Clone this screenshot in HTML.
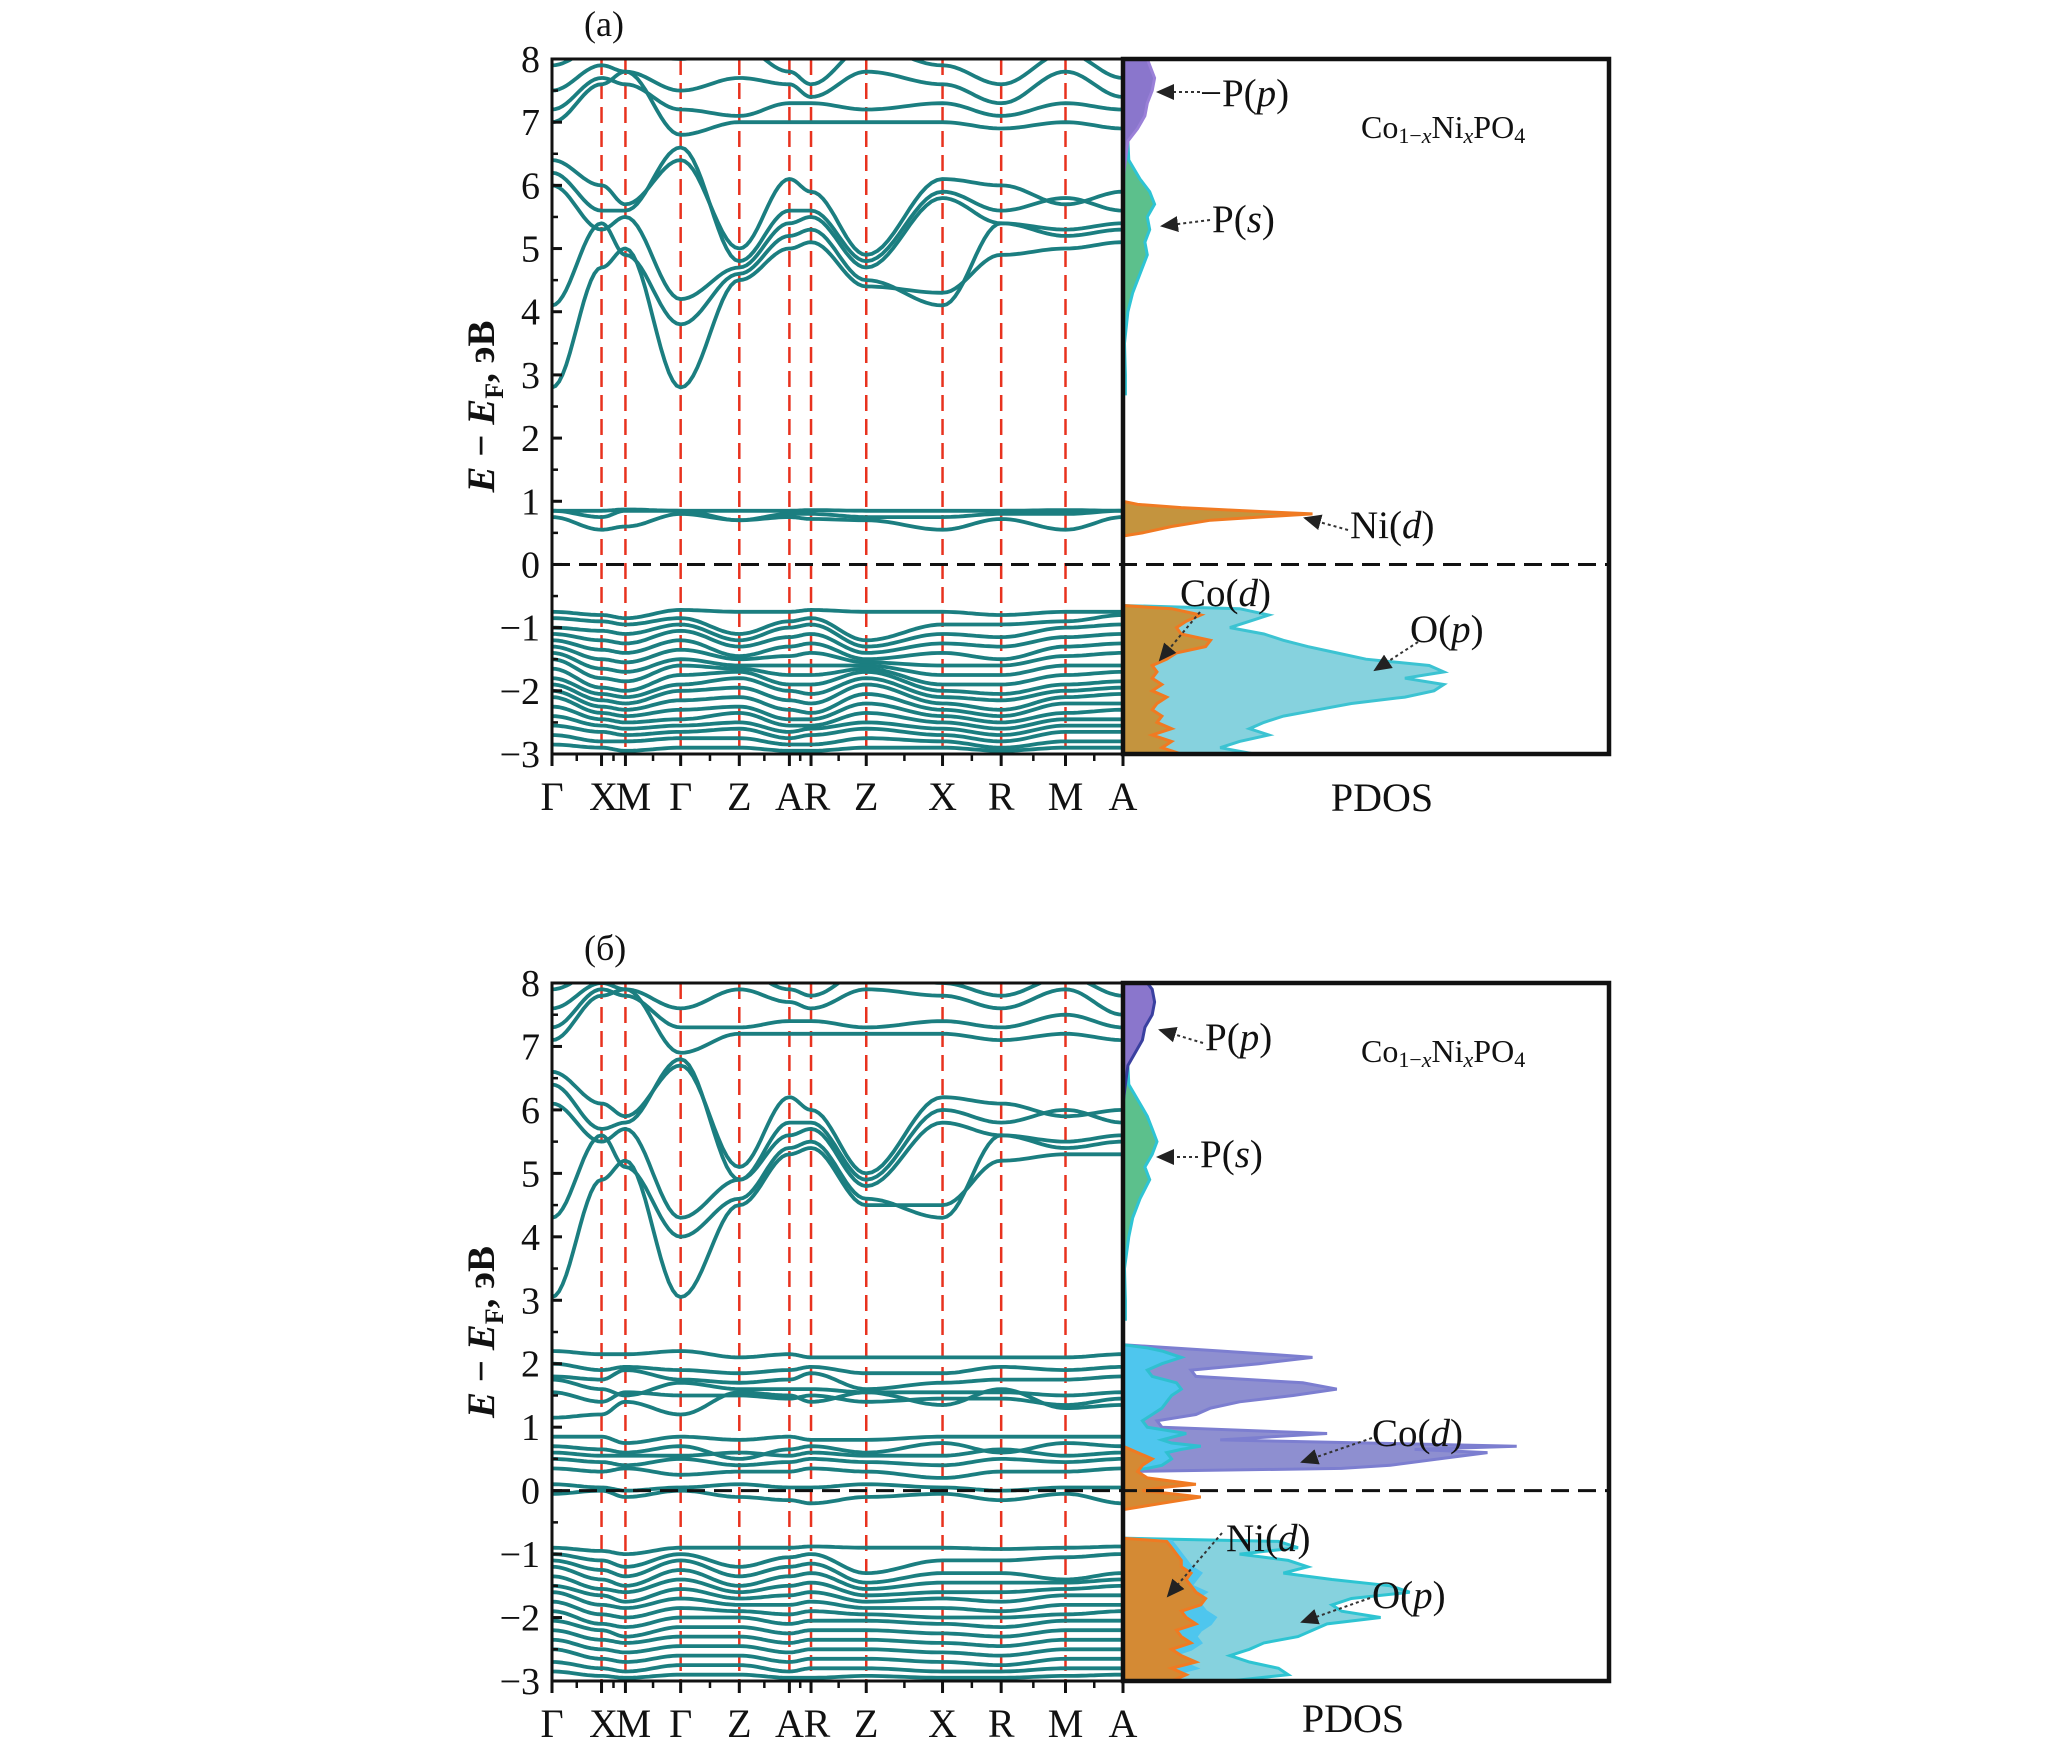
<!DOCTYPE html>
<html><head><meta charset="utf-8">
<style>
html,body{margin:0;padding:0;background:#fff;}
svg{display:block;font-family:"Liberation Serif",serif;}
</style></head>
<body>
<svg id="fig" width="2067" height="1748" viewBox="0 0 2067 1748" xmlns="http://www.w3.org/2000/svg">
<defs>
<marker id="arr" markerWidth="10" markerHeight="10" refX="8" refY="5" orient="auto"><path d="M0,1 L9,5 L0,9 z" fill="#222"/></marker>
<clipPath id="clipA"><rect x="552" y="59" width="571" height="695"/></clipPath>
<clipPath id="clipB"><rect x="552" y="983" width="571" height="698"/></clipPath>
</defs>
</svg>
<script>
// ---- data ----
const kLabels = ["Γ","X","M","Γ","Z","A","R","Z","X","R","M","A"];
const kDist = [0,0.87,1.29,2.26,3.29,4.17,4.55,5.52,6.86,7.89,9.02,10.03];
const yTicks = [8,7,6,5,4,3,2,1,0,-1,-2,-3];

const bandsA = [
[2.8,4.7,5.0,2.8,4.5,5.0,5.1,4.4,4.3,4.9,5.0,5.1],
[4.1,5.4,4.9,3.8,4.6,5.2,5.3,4.5,4.1,5.4,5.3,5.4],
[6.0,5.3,5.5,4.2,4.7,5.4,5.5,4.7,5.8,5.4,5.2,5.3],
[6.2,5.6,5.6,6.6,4.8,5.6,5.6,4.8,5.9,5.6,5.8,5.6],
[6.4,6.0,5.7,6.4,5.0,6.1,5.9,4.9,6.1,6.0,5.7,5.9],
[7.0,7.6,7.8,6.8,7.0,7.0,7.0,7.0,7.0,6.9,7.0,6.9],
[7.2,7.7,7.6,7.2,7.1,7.3,7.3,7.2,7.3,7.1,7.3,7.2],
[7.5,7.9,7.8,7.5,7.7,7.6,7.4,7.8,7.6,7.3,7.8,7.4],
[7.9,8.2,8.1,8.0,8.2,7.8,7.6,8.2,7.9,7.6,8.1,7.7],
[0.85,0.85,0.87,0.85,0.85,0.85,0.86,0.85,0.85,0.85,0.86,0.85],
[0.85,0.75,0.85,0.85,0.7,0.8,0.8,0.75,0.75,0.8,0.8,0.85],
[0.75,0.55,0.6,0.8,0.7,0.75,0.72,0.7,0.55,0.72,0.55,0.75],
[-0.75,-0.8,-0.85,-0.72,-0.75,-0.75,-0.72,-0.75,-0.75,-0.8,-0.75,-0.75],
[-0.85,-0.9,-0.95,-0.85,-1.1,-0.9,-0.85,-1.2,-0.95,-0.95,-0.9,-0.8],
[-1.0,-1.05,-1.1,-0.95,-1.2,-1.0,-0.95,-1.3,-1.1,-1.15,-1.0,-0.95],
[-1.1,-1.2,-1.25,-1.05,-1.3,-1.15,-1.1,-1.4,-1.25,-1.3,-1.15,-1.1],
[-1.2,-1.35,-1.4,-1.2,-1.45,-1.3,-1.25,-1.5,-1.4,-1.5,-1.3,-1.25],
[-1.3,-1.5,-1.55,-1.35,-1.5,-1.45,-1.4,-1.55,-1.6,-1.6,-1.45,-1.4],
[-1.4,-1.65,-1.7,-1.5,-1.6,-1.6,-1.6,-1.6,-1.75,-1.75,-1.6,-1.6],
[-1.5,-1.8,-1.85,-1.6,-1.65,-1.75,-1.75,-1.65,-1.9,-1.9,-1.75,-1.7],
[-1.65,-1.95,-2.0,-1.75,-1.7,-1.9,-1.9,-1.7,-2.0,-2.05,-1.9,-1.85],
[-1.8,-2.05,-2.1,-1.9,-1.8,-2.0,-2.05,-1.8,-2.1,-2.15,-2.0,-1.95],
[-1.9,-2.15,-2.2,-2.0,-1.95,-2.15,-2.2,-1.9,-2.2,-2.3,-2.1,-2.05],
[-2.0,-2.25,-2.3,-2.15,-2.1,-2.3,-2.35,-2.05,-2.3,-2.4,-2.2,-2.2],
[-2.1,-2.35,-2.4,-2.3,-2.25,-2.45,-2.45,-2.2,-2.4,-2.5,-2.35,-2.3],
[-2.25,-2.45,-2.5,-2.45,-2.35,-2.55,-2.55,-2.35,-2.5,-2.6,-2.45,-2.45],
[-2.4,-2.55,-2.6,-2.55,-2.5,-2.65,-2.6,-2.5,-2.6,-2.7,-2.55,-2.55],
[-2.55,-2.65,-2.7,-2.65,-2.6,-2.75,-2.7,-2.6,-2.7,-2.8,-2.65,-2.65],
[-2.7,-2.8,-2.8,-2.75,-2.75,-2.85,-2.85,-2.75,-2.8,-2.9,-2.8,-2.8],
[-2.85,-2.9,-2.95,-2.9,-2.9,-2.95,-2.95,-2.9,-2.9,-2.95,-2.9,-2.9]
];
const bandsB = [
[3.05,4.9,5.2,3.05,4.5,5.3,5.4,4.5,4.5,5.2,5.3,5.3],
[4.3,5.6,5.1,4.0,4.6,5.4,5.5,4.6,4.3,5.6,5.5,5.6],
[6.1,5.5,5.7,4.3,4.9,5.6,5.7,4.8,5.8,5.6,5.4,5.5],
[6.4,5.7,5.8,6.8,4.9,5.8,5.8,4.9,6.0,5.8,6.0,5.8],
[6.6,6.1,5.9,6.7,5.1,6.2,6.0,5.0,6.2,6.1,5.9,6.0],
[7.1,7.8,7.9,6.9,7.2,7.2,7.2,7.2,7.2,7.1,7.2,7.1],
[7.3,7.9,7.8,7.3,7.3,7.4,7.4,7.3,7.4,7.3,7.5,7.3],
[7.6,8.0,7.9,7.6,7.9,7.7,7.6,7.9,7.8,7.6,7.9,7.5],
[7.9,8.2,8.1,8.1,8.2,7.9,7.8,8.2,8.0,7.8,8.1,7.8],
[2.2,2.15,2.15,2.2,2.1,2.15,2.1,2.1,2.1,2.1,2.1,2.15],
[2.0,1.9,1.95,1.9,1.85,1.9,1.95,1.85,1.85,1.95,1.9,1.95],
[1.8,1.75,1.9,1.75,1.7,1.75,1.85,1.6,1.7,1.75,1.75,1.8],
[1.75,1.6,1.5,1.7,1.6,1.6,1.6,1.55,1.55,1.55,1.5,1.55],
[1.55,1.4,1.55,1.5,1.5,1.45,1.5,1.4,1.45,1.45,1.35,1.45],
[1.15,1.2,1.4,1.2,1.55,1.5,1.4,1.55,1.35,1.6,1.3,1.35],
[0.85,0.85,0.75,0.85,0.8,0.85,0.8,0.8,0.85,0.85,0.85,0.85],
[0.7,0.65,0.6,0.7,0.5,0.65,0.7,0.6,0.75,0.6,0.75,0.7],
[0.6,0.55,0.55,0.55,0.6,0.55,0.6,0.55,0.55,0.65,0.55,0.6],
[0.5,0.45,0.4,0.5,0.4,0.45,0.5,0.45,0.4,0.5,0.45,0.5],
[0.35,0.3,0.35,0.25,0.3,0.3,0.35,0.3,0.2,0.3,0.3,0.35],
[0.1,0.05,0.0,0.05,0.1,0.05,0.05,0.1,0.05,0.0,0.05,0.05],
[-0.05,0.0,-0.1,0.0,-0.1,-0.15,-0.2,-0.1,-0.05,-0.15,-0.05,-0.2],
[-0.9,-0.95,-1.0,-0.9,-0.9,-0.9,-0.88,-0.9,-0.9,-0.92,-0.9,-0.88],
[-1.0,-1.1,-1.2,-1.0,-1.2,-1.05,-1.0,-1.3,-1.1,-1.1,-1.05,-1.0],
[-1.1,-1.25,-1.35,-1.1,-1.35,-1.2,-1.15,-1.45,-1.3,-1.3,-1.4,-1.3],
[-1.2,-1.4,-1.5,-1.25,-1.5,-1.35,-1.3,-1.55,-1.45,-1.45,-1.45,-1.4],
[-1.35,-1.55,-1.6,-1.4,-1.6,-1.5,-1.45,-1.65,-1.6,-1.6,-1.55,-1.5],
[-1.5,-1.65,-1.75,-1.55,-1.7,-1.65,-1.6,-1.75,-1.7,-1.75,-1.65,-1.65],
[-1.6,-1.8,-1.85,-1.7,-1.8,-1.8,-1.75,-1.85,-1.85,-1.9,-1.8,-1.8],
[-1.75,-1.95,-2.0,-1.85,-1.9,-1.95,-1.9,-1.95,-2.0,-2.0,-1.95,-1.9],
[-1.9,-2.1,-2.15,-2.0,-2.0,-2.1,-2.05,-2.05,-2.1,-2.15,-2.05,-2.05],
[-2.05,-2.2,-2.3,-2.15,-2.15,-2.25,-2.2,-2.2,-2.25,-2.3,-2.2,-2.2],
[-2.2,-2.35,-2.4,-2.3,-2.3,-2.4,-2.35,-2.35,-2.4,-2.45,-2.35,-2.35],
[-2.35,-2.5,-2.55,-2.45,-2.45,-2.55,-2.5,-2.5,-2.55,-2.6,-2.5,-2.5],
[-2.5,-2.65,-2.7,-2.6,-2.6,-2.7,-2.65,-2.65,-2.7,-2.75,-2.65,-2.65],
[-2.7,-2.8,-2.85,-2.75,-2.75,-2.85,-2.8,-2.8,-2.85,-2.85,-2.8,-2.8],
[-2.85,-2.92,-2.95,-2.9,-2.9,-2.95,-2.95,-2.92,-2.95,-2.95,-2.92,-2.9]
];

// PDOS panel (a)
const paValE = [-3,-2.9,-2.8,-2.7,-2.6,-2.5,-2.4,-2.3,-2.2,-2.1,-2.0,-1.9,-1.8,-1.7,-1.6,-1.5,-1.4,-1.3,-1.2,-1.1,-1.0,-0.9,-0.8,-0.7,-0.65];
const paOp = [2.7,2.0,2.4,3.0,2.6,2.9,3.3,4.0,4.7,5.8,6.4,6.6,5.8,6.6,6.3,5.0,4.4,3.8,3.3,2.9,2.2,2.6,3.0,2.4,0];
const paCod = [1.2,0.8,1.0,0.6,1.0,0.7,0.8,0.6,0.7,0.9,0.6,0.8,0.6,0.7,0.6,0.9,1.1,1.7,1.8,1.2,1.1,1.3,1.6,1.0,0];
const paNiE = [0.45,0.5,0.6,0.7,0.75,0.8,0.85,0.9,0.95,1.0];
const paNid = [0,0.4,1.0,1.8,2.8,3.9,2.5,1.2,0.3,0];
const paUpE = [2.7,3.0,3.5,4.0,4.3,4.6,4.9,5.1,5.3,5.5,5.7,5.9,6.1,6.4,6.7,6.9,7.1,7.3,7.5,7.7,7.9,8.0];
const paPs = [0.05,0.05,0.03,0.1,0.2,0.35,0.5,0.45,0.55,0.5,0.65,0.55,0.35,0.12,0.1,0.2,0.3,0.35,0.4,0.35,0.35,0.3];
const paPp = [0,0,0,0,0,0,0,0,0,0,0,0,0,0.05,0.1,0.3,0.45,0.5,0.6,0.65,0.55,0.5];

// PDOS panel (b)
const pbMidE = [0.3,0.35,0.4,0.5,0.6,0.65,0.7,0.75,0.8,0.9,1.0,1.1,1.2,1.3,1.4,1.5,1.6,1.7,1.8,1.9,2.0,2.1,2.15,2.2,2.25,2.3];
const pbCod = [0,4.5,5.5,6.5,7.5,6.0,8.1,5.0,2.0,4.2,0.8,0.7,1.5,1.8,2.4,3.5,4.4,3.7,1.5,1.4,2.8,3.9,3.0,2.0,1.0,0];
const pbMidBlue = [0,0.5,0.8,1.0,0.9,1.2,1.6,1.0,0.8,1.3,0.5,0.4,0.6,0.8,0.9,1.0,1.2,1.1,0.6,0.5,0.8,1.2,1.0,0.8,0.5,0];
const pbFermiE = [-0.3,-0.2,-0.1,-0.05,0,0.05,0.1,0.15,0.2,0.3,0.4,0.5,0.6,0.7];
const pbFermiOr = [0,0.8,1.6,1.0,0.4,0.8,1.5,1.0,0.5,0.3,0.4,0.6,0.3,0];
const pbValE = [-3,-2.9,-2.8,-2.7,-2.6,-2.5,-2.4,-2.3,-2.2,-2.1,-2.0,-1.9,-1.8,-1.7,-1.6,-1.5,-1.4,-1.3,-1.2,-1.1,-1.0,-0.9,-0.8,-0.75];
const pbOp = [2.2,3.4,3.2,2.6,2.2,2.6,2.9,3.6,3.9,4.2,5.3,4.5,4.3,4.7,5.9,5.5,4.3,3.3,3.8,3.4,2.4,3.6,3.2,0];
const pbValBlue = [1.2,1.0,1.5,1.2,1.0,1.4,1.6,1.5,1.6,1.8,1.9,1.7,1.6,1.5,1.7,1.4,1.5,1.6,1.4,1.3,1.2,1.1,1.0,0];
const pbNid = [1.0,1.3,1.0,1.5,1.2,1.0,1.4,1.2,1.1,1.5,1.3,1.2,1.6,1.7,1.5,1.4,1.3,1.4,1.2,1.2,1.1,1.0,0.9,0];
const pbUpE = [2.7,3.0,3.5,4.0,4.3,4.6,4.9,5.1,5.3,5.5,5.7,5.9,6.1,6.4,6.7,6.9,7.1,7.3,7.5,7.7,7.9,8.0];
const pbPs = [0.05,0.05,0.03,0.12,0.2,0.35,0.55,0.45,0.6,0.7,0.6,0.5,0.35,0.12,0.1,0.2,0.3,0.45,0.5,0.6,0.55,0.4];
const pbPp = [0,0,0,0,0,0,0,0,0,0,0,0,0,0.05,0.1,0.25,0.4,0.45,0.6,0.65,0.6,0.5];

// ---- drawing ----
const NS = "http://www.w3.org/2000/svg";
const svg = document.getElementById("fig");
function mk(tag, attrs, parent){
  const e = document.createElementNS(NS, tag);
  for (const k in attrs) e.setAttribute(k, attrs[k]);
  (parent||svg).appendChild(e);
  return e;
}
const X0 = 552, XA = 1123, XR = 1609, PDOSMAX = 10;
function xK(d){ return X0 + d/kDist[kDist.length-1]*(XA-X0); }
function xP(v){ return XA + v/PDOSMAX*(XR-XA); }

function drawPanel(p){
  const yS = E => p.top + (8-E)/11*(p.bot-p.top);
  const g = mk("g", {});
  
  
  for (let i=1;i<kDist.length-1;i++){
    const l = mk("line",{x1:xK(kDist[i]),x2:xK(kDist[i]),y1:p.top,y2:p.bot,stroke:"#e8321e","stroke-width":2.5,"stroke-dasharray":"16 8"},g);
    
    
  }
  const bg = mk("g",{"clip-path":"url(#"+p.clip+")"},g);
  p.bands.forEach(b=>{
    let d="";
    for (let i=0;i<b.length-1;i++){
      const xa=xK(kDist[i]), xb=xK(kDist[i+1]);
      const n=14;
      for (let j=0;j<=n;j++){
        if (i>0 && j===0) continue;
        const t=j/n, s=(1-Math.cos(Math.PI*t))/2;
        const x=xa+(xb-xa)*t, y=yS(b[i]+(b[i+1]-b[i])*s);
        d += (d===""?"M":"L")+x.toFixed(1)+","+y.toFixed(1);
      }
    }
    const path = mk("path",{d:d,fill:"none",stroke:"#1b7e80","stroke-width":3.8,"stroke-linejoin":"round"},bg);
    
    
  });
  p.pdos.forEach(s=>{
    let d="M"+XA+","+yS(s.E[0]).toFixed(1);
    s.E.forEach((e,i)=>{ d+="L"+xP(s.v[i]).toFixed(1)+","+yS(Math.min(8,e)).toFixed(1); });
    d+="L"+XA+","+yS(Math.min(8,s.E[s.E.length-1])).toFixed(1)+"Z";
    const path = mk("path",{d:d,fill:s.fill,stroke:s.stroke,"stroke-width":3},g);
    
    
  });
  const z = mk("line",{x1:X0,x2:XR,y1:yS(0),y2:yS(0),stroke:"#111","stroke-width":3,"stroke-dasharray":"18 9"},g);
  
  
  const f1 = mk("rect",{x:X0,y:p.top,width:XA-X0,height:p.bot-p.top,fill:"none",stroke:"#111","stroke-width":3},g);
  
  
  const f2 = mk("rect",{x:XA,y:p.top,width:XR-XA,height:p.bot-p.top,fill:"none",stroke:"#111","stroke-width":4.5},g);
  
  
  yTicks.forEach(v=>{
    const y=yS(v);
    mk("line",{x1:X0,x2:X0+10,y1:y,y2:y,stroke:"#111","stroke-width":3},g);
    const t = mk("text",{x:540,y:y+13,"text-anchor":"end","font-size":38,fill:"#111"},g);
    t.textContent = v<0 ? "−"+(-v) : String(v);
    
    
    if (v>-3){ const ym=yS(v-0.5); mk("line",{x1:X0,x2:X0+6,y1:ym,y2:ym,stroke:"#111","stroke-width":2.5},g); }
  });
  kDist.forEach((d,i)=>{
    const x=xK(d);
    mk("line",{x1:x,x2:x,y1:p.bot,y2:p.bot+12,stroke:"#111","stroke-width":3},g);
    if (i<kDist.length-1){
      const xm=(x+xK(kDist[i+1]))/2;
      mk("line",{x1:xm,x2:xm,y1:p.bot,y2:p.bot+7,stroke:"#111","stroke-width":2.5},g);
    }
    const t = mk("text",{x:x+(i===1?2:i===2?8:i===5?0:i===6?6:0),y:p.bot+56,"text-anchor":"middle","font-size":40,fill:"#111"},g);
    t.textContent = kLabels[i];
    
    
  });
  const yt = mk("text",{x:0,y:0,transform:"translate(494,"+((p.top+p.bot)/2)+") rotate(-90)","text-anchor":"middle","font-size":39,"font-weight":"bold",fill:"#111"},g);
  yt.innerHTML = '<tspan font-style="italic">E</tspan> − <tspan font-style="italic">E</tspan><tspan font-size="26" dy="9">F</tspan><tspan dy="-9">, эВ</tspan>';
  
  
  const pl = mk("text",{x:p.pdosLabelX,y:p.bot+p.pdosLabelDy,"text-anchor":"middle","font-size":40,fill:"#111"},g);
  pl.textContent = "PDOS";
  
  
  const pn = mk("text",{x:584,y:p.top-23,"font-size":36,fill:"#111"},g);
  pn.textContent = p.label;
  
  
  const fm = mk("text",{x:1361,y:p.top+79,"font-size":32,fill:"#111"},g);
  fm.innerHTML = 'Co<tspan font-size="22" dy="5">1−<tspan font-style="italic">x</tspan></tspan><tspan dy="-5">Ni</tspan><tspan font-size="22" dy="5" font-style="italic">x</tspan><tspan dy="-5">PO</tspan><tspan font-size="22" dy="5">4</tspan>';
  
  
  p.notes.forEach(n=>{
    const t = mk("text",{x:n.x,y:n.y,"font-size":39,fill:"#111"},g);
    t.innerHTML = n.t.replace(/\((.)\)/,'(<tspan font-style="italic">$1</tspan>)');
    
    
    const a = mk("line",{x1:n.ax1,y1:n.ay1,x2:n.ax2,y2:n.ay2,stroke:"#333","stroke-width":2,"stroke-dasharray":"3 3","marker-end":"url(#arr)"},g);
    
    
  });
}

drawPanel({name:"panel-a", label:"(a)", top:59, bot:754, clip:"clipA", pdosLabelX:1382, pdosLabelDy:57, bands:bandsA,
  pdos:[
    {name:"pdos-o-p",E:paValE,v:paOp,fill:"#86d2de",stroke:"#3cc3d2"},
    {name:"pdos-co-d",E:paValE,v:paCod,fill:"#c4943e",stroke:"#f07a22"},
    {name:"pdos-ni-d",E:paNiE,v:paNid,fill:"#c4943e",stroke:"#f07a22"},
    {name:"pdos-p-s",E:paUpE,v:paPs,fill:"#5cc08c",stroke:"#2ec4d4"},
    {name:"pdos-p-p",E:paUpE,v:paPp,fill:"#8a76cc",stroke:"#9a80d8"}
  ],
  notes:[
    {t:"−P(p)",x:1200,y:106,ax1:1200,ay1:92,ax2:1158,ay2:92},
    {t:"P(s)",x:1212,y:232,ax1:1210,ay1:220,ax2:1162,ay2:226},
    {t:"Ni(d)",x:1350,y:538,ax1:1348,ay1:530,ax2:1305,ay2:518},
    {t:"Co(d)",x:1180,y:606,ax1:1200,ay1:612,ax2:1160,ay2:660},
    {t:"O(p)",x:1410,y:642,ax1:1418,ay1:642,ax2:1375,ay2:670}
  ]});
drawPanel({name:"panel-b", label:"(б)", top:983, bot:1681, clip:"clipB", pdosLabelX:1353, pdosLabelDy:51, bands:bandsB,
  pdos:[
    {name:"pdos-co-d",E:pbMidE,v:pbCod,fill:"#8e8fd0",stroke:"#7c7ed0"},
    {name:"pdos-co-d-minor",E:pbMidE,v:pbMidBlue,fill:"#4ec6ee",stroke:"#2fc0d0"},
    {name:"pdos-o-p",E:pbValE,v:pbOp,fill:"#86d2de",stroke:"#2ec4d2"},
    {name:"pdos-o-p-minor",E:pbValE,v:pbValBlue,fill:"#4ec6ee",stroke:"#4ec6ee"},
    {name:"pdos-ni-d",E:pbValE,v:pbNid,fill:"#d48a34",stroke:"#f07a22"},
    {name:"pdos-ni-d-fermi",E:pbFermiE,v:pbFermiOr,fill:"#d48a34",stroke:"#f07a22"},
    {name:"pdos-p-s",E:pbUpE,v:pbPs,fill:"#5cc08c",stroke:"#2ec4d4"},
    {name:"pdos-p-p",E:pbUpE,v:pbPp,fill:"#8a76cc",stroke:"#3a40a0"}
  ],
  notes:[
    {t:"P(p)",x:1205,y:1050,ax1:1203,ay1:1043,ax2:1160,ay2:1030},
    {t:"P(s)",x:1200,y:1167,ax1:1198,ay1:1157,ax2:1158,ay2:1157},
    {t:"Co(d)",x:1372,y:1446,ax1:1372,ay1:1438,ax2:1302,ay2:1462},
    {t:"Ni(d)",x:1226,y:1551,ax1:1222,ay1:1533,ax2:1168,ay2:1596},
    {t:"O(p)",x:1372,y:1608,ax1:1370,ay1:1598,ax2:1302,ay2:1622}
  ]});
</script>
</body></html>
